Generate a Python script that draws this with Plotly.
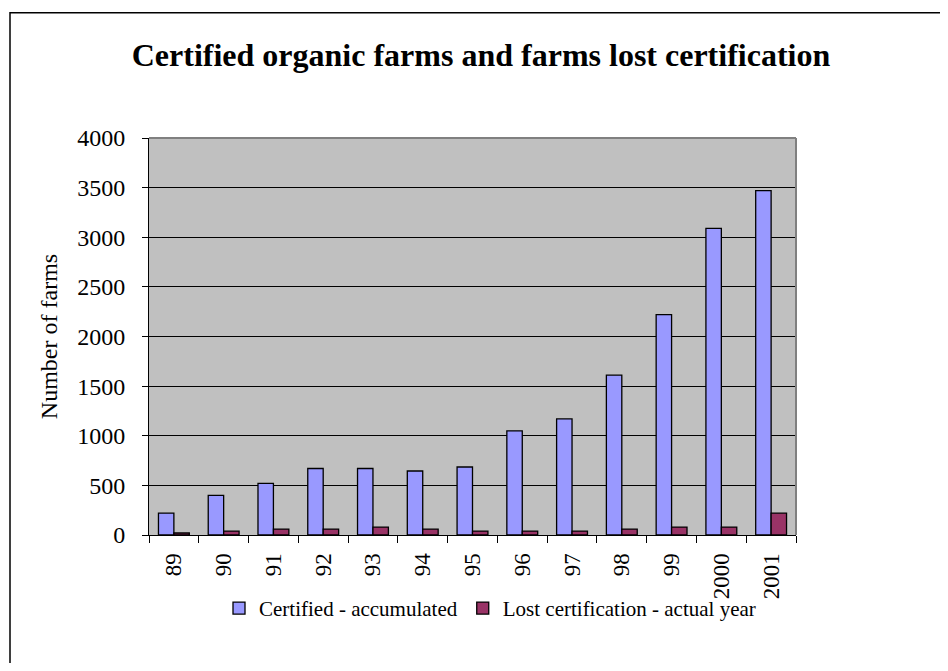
import plotly.graph_objects as go

years = ["89", "90", "91", "92", "93", "94", "95", "96", "97", "98", "99", "2000", "2001"]
certified = [220, 400, 520, 670, 670, 645, 685, 1050, 1170, 1610, 2220, 3090, 3470]
lost = [20, 40, 60, 60, 80, 60, 40, 40, 40, 60, 80, 80, 220]
y_ticks = [0, 500, 1000, 1500, 2000, 2500, 3000, 3500, 4000]

FONT = "Liberation Serif, Times New Roman, serif"

fig = go.Figure()
fig.add_trace(go.Bar(x=years, y=certified, name="Certified - accumulated",
                     marker=dict(color="#9999FF", line=dict(color="black", width=1.3))))
fig.add_trace(go.Bar(x=years, y=lost, name="Lost certification - actual year",
                     marker=dict(color="#993366", line=dict(color="black", width=1.3))))

# page has an 8px body margin; figure coordinates = screen - 8
OFF = 8
W, H = 932, 655
L, T = 149 - OFF, 138 - OFF
R = W - (796 - OFF)
B = H - (535.5 - OFF)
pw, ph = W - L - R, H - T - B

def px_x(x):
    return (x - OFF - L) / pw

def px_y(y):
    return (H - B - (y - OFF)) / ph

fig.update_layout(
    width=W, height=H,
    margin=dict(l=L, r=R, t=T, b=B),
    paper_bgcolor="white",
    plot_bgcolor="#C0C0C0",
    barmode="group", bargap=0.38, bargroupgap=0,
    font=dict(family=FONT, color="black"),
    title=dict(text="<b>Certified organic farms and farms lost certification</b>",
               x=px_x(481), xanchor="center", xref="paper",
               y=1 - (55 - OFF) / H, yanchor="middle",
               font=dict(size=32, family=FONT, color="black")),
    showlegend=True,
    legend=dict(orientation="h", x=px_x(490), xanchor="center", y=px_y(609), yanchor="middle",
                font=dict(size=21, family=FONT), bgcolor="rgba(0,0,0,0)",
                itemwidth=30, traceorder="normal"),
    xaxis=dict(type="category", tickson="boundaries", ticks="outside", ticklen=7,
               tickcolor="black", tickwidth=1, showline=True, linecolor="black", linewidth=1,
               tickangle=-90, tickfont=dict(size=23, family=FONT), showgrid=False,
               ticklabelstandoff=8),
    yaxis=dict(range=[0, 4000], tickvals=y_ticks, ticks="outside", ticklen=6,
               tickcolor="black", showline=True, linecolor="black", linewidth=1,
               showgrid=True, gridcolor="black", gridwidth=1, zeroline=False,
               tickfont=dict(size=24, family=FONT), ticklabelstandoff=12,
               title=dict(text="Number of farms", font=dict(size=24, family=FONT), standoff=12)),
    shapes=[
        dict(type="line", xref="paper", yref="paper", x0=0, x1=1, y0=1, y1=1,
             line=dict(color="#808080", width=2), layer="above"),
        dict(type="line", xref="paper", yref="paper", x0=1, x1=1, y0=0, y1=1,
             line=dict(color="#808080", width=2), layer="above"),
        dict(type="rect", xref="paper", yref="paper",
             x0=px_x(10), x1=px_x(1000), y0=px_y(700), y1=px_y(12.5),
             line=dict(color="black", width=1.5), layer="below"),
    ],
)

fig.write_html("out.html")
